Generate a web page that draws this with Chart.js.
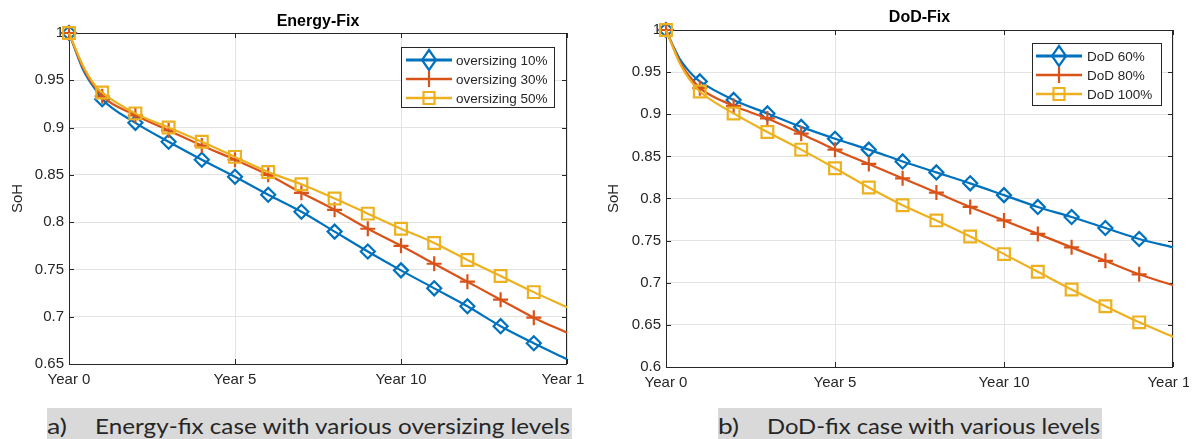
<!DOCTYPE html>
<html>
<head>
<meta charset="utf-8">
<script src="https://cdn.jsdelivr.net/npm/chart.js@4.4.1/dist/chart.umd.min.js"></script>
<style>
  body { margin: 0; background: #fff; width: 1195px; height: 439px; overflow: hidden; position: relative; }
  canvas { position: absolute; top: 0; }
  #energyChart { left: 0; }
  #dodChart { left: 596px; }
  .caption { position: absolute; top: 408px; height: 34px; background: #d9d9d9; overflow: hidden;
             font-family: Lato, 'Open Sans', sans-serif; font-size: 22px; line-height: 1; color: #262626; }
  .caption span { position: absolute; top: 7px; white-space: pre; transform-origin: left top; }
</style>
</head>
<body>
<canvas id="energyChart" width="584" height="400"></canvas>
<canvas id="dodChart" width="593" height="400"></canvas>
<div class="caption" style="left:47px; width:525px;">
  <span data-w="20" style="left:0">a)</span>
  <span data-w="475" style="left:48px">Energy-fix case with various oversizing levels</span>
</div>
<div class="caption" style="left:718px; width:384px;">
  <span data-w="21" style="left:0">b)</span>
  <span data-w="333" style="left:49px">DoD-fix case with various levels</span>
</div>
<script>
// years on the x axis (the extra points before year 1 only shape the steep start)
const years = [0, 0.2, 0.4, 0.6, 0.8, 1, 2, 3, 4, 5, 6, 7, 8, 9, 10, 11, 12, 13, 14, 15];
const yearTicks = ['Year 0', 'Year 5', 'Year 10', 'Year 15'];

const energyLabels = ['oversizing 10%', 'oversizing 30%', 'oversizing 50%'];
const energy10 = [1, 0.981, 0.963, 0.950, 0.940, 0.930, 0.905, 0.885, 0.866, 0.848, 0.829, 0.811, 0.790, 0.769, 0.749, 0.730, 0.711, 0.690, 0.672, 0.655];
const energy30 = [1, 0.982, 0.965, 0.952, 0.942, 0.933, 0.913, 0.897, 0.881, 0.866, 0.850, 0.831, 0.813, 0.793, 0.775, 0.756, 0.737, 0.718, 0.699, 0.683];
const energy50 = [1, 0.983, 0.967, 0.954, 0.944, 0.937, 0.915, 0.900, 0.885, 0.869, 0.853, 0.840, 0.825, 0.809, 0.793, 0.778, 0.760, 0.743, 0.726, 0.710];

const dodLabels = ['DoD 60%', 'DoD 80%', 'DoD 100%'];
const dod60 = [1, 0.982, 0.966, 0.955, 0.946, 0.939, 0.917, 0.901, 0.885, 0.871, 0.858, 0.844, 0.831, 0.818, 0.804, 0.790, 0.778, 0.765, 0.752, 0.742];
const dod80 = [1, 0.981, 0.963, 0.950, 0.940, 0.931, 0.910, 0.895, 0.877, 0.858, 0.841, 0.824, 0.807, 0.790, 0.774, 0.758, 0.742, 0.726, 0.710, 0.697];
const dod100 = [1, 0.980, 0.961, 0.947, 0.936, 0.927, 0.901, 0.879, 0.858, 0.836, 0.813, 0.792, 0.774, 0.755, 0.734, 0.713, 0.692, 0.672, 0.653, 0.636];

const colors = ['#0072BD', '#D95319', '#EDB120'];
const styles = ['rectRot', 'cross', 'rect'];
const radii = [7, 7.5, 8.3];
const axisFont = { family: "'Liberation Sans', Arial, sans-serif", size: 15 };

function drawMarker(ctx, shape, x, y, color) {
  ctx.strokeStyle = color;
  ctx.lineWidth = 2.2;
  ctx.beginPath();
  if (shape === 'rectRot') {
    ctx.moveTo(x, y - 10); ctx.lineTo(x + 7, y); ctx.lineTo(x, y + 10); ctx.lineTo(x - 7, y); ctx.closePath();
  } else if (shape === 'cross') {
    ctx.moveTo(x - 7, y); ctx.lineTo(x + 7, y); ctx.moveTo(x, y - 8); ctx.lineTo(x, y + 8);
  } else {
    ctx.rect(x - 5.5, y - 6, 11, 12);
  }
  ctx.stroke();
}

const matlabAxes = {
  id: 'matlabAxes',
  beforeDatasetsDraw(chart) {
    const { ctx, chartArea: a, scales } = chart;
    ctx.save();
    ctx.strokeStyle = '#262626';
    ctx.lineWidth = 1;
    ctx.strokeRect(a.left + 0.5, a.top + 0.5, a.right - a.left - 1, a.bottom - a.top);
    ctx.beginPath();
    scales.y.ticks.forEach(t => {
      const py = Math.round(scales.y.getPixelForValue(t.value)) + 0.5;
      ctx.moveTo(a.left, py); ctx.lineTo(a.left + 5, py);
      ctx.moveTo(a.right - 5, py); ctx.lineTo(a.right, py);
    });
    scales.x.ticks.forEach(t => {
      const px = Math.round(scales.x.getPixelForValue(t.value)) + 0.5;
      ctx.moveTo(px, a.bottom); ctx.lineTo(px, a.bottom - 5);
      ctx.moveTo(px, a.top); ctx.lineTo(px, a.top + 5);
    });
    ctx.stroke();
    ctx.restore();
  },
  afterDraw(chart, args, opts) {
    const { ctx, chartArea: a } = chart;
    ctx.save();
    ctx.fillStyle = '#000';
    ctx.font = "bold 16px 'Liberation Sans', Arial, sans-serif";
    ctx.textAlign = 'center';
    ctx.textBaseline = 'alphabetic';
    ctx.fillText(opts.title, (a.left + a.right) / 2, opts.titleY);

    const lg = opts.legend;
    ctx.fillStyle = '#fff';
    ctx.fillRect(lg.x, lg.y, lg.w, lg.h);
    ctx.strokeStyle = '#262626';
    ctx.lineWidth = 1;
    ctx.strokeRect(lg.x + 0.5, lg.y + 0.5, lg.w, lg.h);
    ctx.font = "13.5px 'Liberation Sans', Arial, sans-serif";
    ctx.textAlign = 'left';
    ctx.textBaseline = 'middle';
    chart.data.datasets.forEach((ds, i) => {
      const ry = lg.rows[i];
      ctx.strokeStyle = ds.borderColor;
      ctx.lineWidth = i === 0 ? 3 : 2.5;
      ctx.beginPath();
      ctx.moveTo(lg.lineX, ry); ctx.lineTo(lg.lineX + 46, ry);
      ctx.stroke();
      drawMarker(ctx, styles[i], lg.lineX + 23, ry, ds.borderColor);
      ctx.fillStyle = '#262626';
      ctx.fillText(ds.label, lg.textX, ry + 1);
    });
    ctx.restore();
  }
};

function buildDatasets(labels, series) {
  return series.map((values, i) => ({
    label: labels[i],
    data: years.map((x, k) => ({ x, y: values[k] })),
    borderColor: colors[i],
    borderWidth: 2.2,
    cubicInterpolationMode: 'monotone',
    pointStyle: styles[i],
    pointRadius: c => (Number.isInteger(c.raw.x) && c.raw.x < 15 ? radii[i] : 0),
    pointBorderWidth: 2.2,
    pointBorderColor: colors[i],
    pointBackgroundColor: 'rgba(0,0,0,0)',
    order: 2 - i,
    clip: false
  }));
}

function buildChart(id, labels, series, yMin, box) {
  return new Chart(document.getElementById(id), {
    type: 'line',
    data: { datasets: buildDatasets(labels, series) },
    options: {
      responsive: false,
      animation: false,
      layout: { padding: { top: box.top, right: box.right, left: 0, bottom: 0 } },
      plugins: {
        legend: { display: false },
        tooltip: { enabled: false },
        matlabAxes: box.deco
      },
      scales: {
        x: {
          type: 'linear',
          min: 0,
          max: 15,
          ticks: {
            stepSize: 5,
            autoSkip: false,
            maxRotation: 0,
            padding: 7,
            color: '#262626',
            font: axisFont,
            callback: v => yearTicks[v / 5]
          },
          grid: { color: '#e3e3e3', drawTicks: false },
          border: { display: false },
          afterFit: s => { s.height = box.xHeight; s.paddingLeft = 0; s.paddingRight = 0; }
        },
        y: {
          min: yMin,
          max: 1,
          ticks: {
            stepSize: 0.05,
            padding: 5,
            color: '#262626',
            font: axisFont,
            callback: v => String(Number(v.toFixed(2)))
          },
          grid: { color: '#e3e3e3', drawTicks: false },
          border: { display: false },
          title: { display: true, text: 'SoH', color: '#262626', font: axisFont, padding: { top: 9, bottom: 0 } },
          afterFit: s => { s.width = box.yWidth; s.paddingTop = 0; s.paddingBottom = 0; }
        }
      }
    },
    plugins: [matlabAxes]
  });
}

buildChart('energyChart', energyLabels, [energy10, energy30, energy50], 0.65, {
  top: 33, right: 17, xHeight: 36, yWidth: 69,
  deco: {
    title: 'Energy-Fix', titleY: 26,
    legend: { x: 401, y: 47, w: 153, h: 60, rows: [60, 79, 98], lineX: 406, textX: 456 }
  }
});

buildChart('dodChart', dodLabels, [dod60, dod80, dod100], 0.6, {
  top: 30, right: 16, xHeight: 33, yWidth: 70,
  deco: {
    title: 'DoD-Fix', titleY: 22,
    legend: { x: 436, y: 43, w: 129, h: 62, rows: [56, 75, 94], lineX: 440, textX: 491 }
  }
});

// squeeze the caption text to the widths seen in the picture
document.querySelectorAll('.caption span').forEach(s => {
  const target = Number(s.dataset.w);
  s.style.transform = 'scaleX(' + (target / s.getBoundingClientRect().width) + ')';
});
</script>
</body>
</html>
